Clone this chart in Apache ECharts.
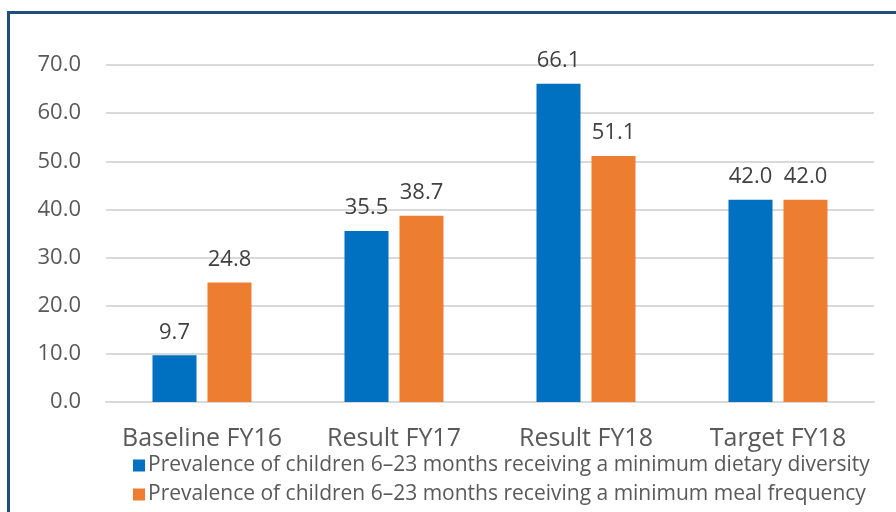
<!DOCTYPE html>
<html>
<head>
<meta charset="utf-8">
<script src="https://cdn.jsdelivr.net/npm/echarts@6/dist/echarts.min.js"></script>
<style>
  html, body { margin: 0; padding: 0; background: #fff; }
  #frame { position: absolute; left: 7px; top: 11px; width: 900px; height: 520px;
           border-left: 3px solid #1f4e79; border-top: 3px solid #1f4e79; }
  #chart { position: absolute; left: 0; top: 0; width: 896px; height: 512px; }
</style>
</head>
<body>
<div id="frame"></div>
<div id="chart"></div>
<script>
const categories = ['Baseline FY16', 'Result FY17', 'Result FY18', 'Target FY18'];
const dietaryDiversity = [9.7, 35.5, 66.1, 42.0];
const mealFrequency = [24.8, 38.7, 51.1, 42.0];
const seriesNames = [
  'Prevalence of children 6\u201323 months receiving a minimum dietary diversity',
  'Prevalence of children 6\u201323 months receiving a minimum meal frequency'
];

const FONT = '"Open Sans"';
const chart = echarts.init(document.getElementById('chart'), null, { renderer: 'canvas' });

const labelStyle = {
  show: true,
  position: 'top',
  distance: 12,
  color: '#404040',
  fontFamily: FONT,
  fontSize: 22,
  formatter: p => p.value.toFixed(1)
};

chart.setOption({
  animation: false,
  textStyle: { fontFamily: FONT },
  grid: { left: 106, right: 22, top: 65, bottom: 110, containLabel: false },
  xAxis: {
    type: 'category',
    data: categories,
    axisLine: { show: true, lineStyle: { color: '#d9d9d9', width: 2 } },
    axisTick: { show: false },
    axisLabel: { interval: 0, color: '#595959', fontFamily: FONT, fontSize: 25, margin: 24 }
  },
  yAxis: {
    type: 'value',
    min: 0, max: 70, interval: 10,
    axisLine: { show: false },
    axisTick: { show: false },
    splitLine: { lineStyle: { color: '#d9d9d9', width: 2 } },
    axisLabel: { color: '#595959', fontFamily: FONT, fontSize: 22, margin: 25,
                 formatter: v => v.toFixed(1) }
  },
  legend: {
    orient: 'vertical',
    left: 128, top: 450,
    icon: 'rect',
    itemWidth: 12, itemHeight: 12,
    itemGap: 8,
    textStyle: { color: '#595959', fontFamily: FONT, fontSize: 21, lineHeight: 21,
                 padding: [0, 0, 0, -2] },
    data: seriesNames
  },
  series: [
    { name: seriesNames[0], type: 'bar', data: dietaryDiversity, barWidth: 44, barGap: '25%',
      itemStyle: { color: '#0070c0' }, label: labelStyle },
    { name: seriesNames[1], type: 'bar', data: mealFrequency, barWidth: 44, barGap: '25%',
      itemStyle: { color: '#ed7d31' }, label: labelStyle }
  ]
});
</script>
</body>
</html>
